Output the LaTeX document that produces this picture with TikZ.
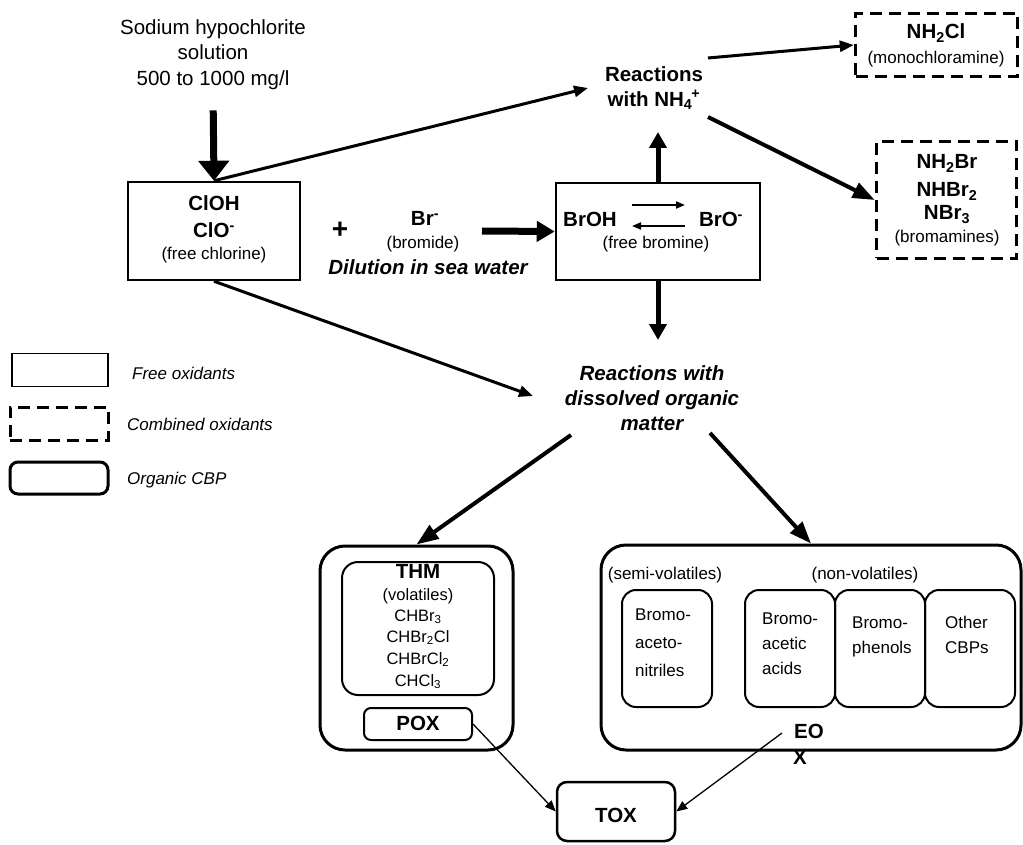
\documentclass[tikz,border=0pt]{standalone}
\usepackage{fontspec}
\setmainfont{Liberation Sans}
\usetikzlibrary{arrows.meta}
\begin{document}
\begin{tikzpicture}[x=1pt,y=-1pt,
  lab/.style={inner sep=0pt, anchor=base},
  big/.style={lab, font=\fontsize{20.5}{24}\selectfont},
  bigb/.style={lab, font=\fontsize{20.5}{24}\selectfont\bfseries},
  bigbi/.style={lab, font=\fontsize{20.5}{24}\selectfont\bfseries\itshape},
  small/.style={lab, font=\fontsize{17}{20}\selectfont},
  smalli/.style={lab, anchor=base west, font=\fontsize{17}{20}\selectfont\itshape},
  thm/.style={lab, font=\fontsize{16.5}{20}\selectfont},
  freebox/.style={draw, line width=2.5pt, inner sep=0pt},
  combox/.style={draw, line width=3.5pt, dash pattern=on 12pt off 7pt, inner sep=0pt},
  orgouter/.style={draw, line width=3pt, rounded corners=25pt, inner sep=0pt},
  orginner/.style={draw, line width=2pt, rounded corners=16pt, inner sep=0pt},
  orgsmall/.style={draw, line width=2pt, rounded corners=7pt, inner sep=0pt},
  bigarrow/.style={line width=7pt, -{Triangle[length=20pt,width=30pt]}},
  brarrow/.style={line width=7pt, -{Triangle[length=18pt,width=20pt]}},
  vertarrow/.style={line width=5pt, -{Triangle[length=16pt,width=17pt]}},
  medarrow/.style={line width=3pt, -{Triangle[length=14pt,width=11pt]}},
  heavyarrow/.style={line width=4pt, -{Triangle[length=22pt,width=16pt]}},
  eqarrow/.style={line width=2pt, -{Triangle[length=9pt,width=7pt]}},
  thinarrow/.style={line width=1.3pt, -{Triangle[length=11pt,width=9pt]}}
]
\useasboundingbox (0,0) rectangle (1023,845);

% sodium hypochlorite
\node[big] (sod1) at (213,35) {Sodium hypochlorite};
\node[big] (sod2) at (213,60) {solution};
\node[big] (sod3) at (213,86) {500 to 1000 mg/l};

% free chlorine box
\node[freebox, minimum width=172pt, minimum height=98pt] (cl) at (214,231) {};
\node[bigb] (clA) at (214,211) {ClOH};
\node[bigb] (clB) at (214,238) {ClO\textsuperscript{-}};
\node[small] (clC) at (214,259) {(free chlorine)};

% plus and bromide
\node[inner sep=0pt, font=\fontsize{28}{30}\selectfont\bfseries] (plus) at (340,230) {+};
\node[bigb] (brm) at (425,226) {Br\textsuperscript{-}};
\node[small] (brmB) at (423,249) {(bromide)};
\node[bigbi] (dil) at (428,274) {Dilution in sea water};

% free bromine box
\node[freebox, minimum width=204pt, minimum height=97pt] (brb) at (658,231.5) {};
\node[bigb] (brA) at (590,227) {BrOH};
\node[bigb] (brB) at (721,227) {BrO\textsuperscript{-}};
\node[small] (brC) at (656,249) {(free bromine)};
\coordinate (eqA) at (632,205);
\coordinate (eqB) at (685,205);
\coordinate (eqC) at (685,226);
\coordinate (eqD) at (632,226);

% reactions with NH4+
\node[inner sep=0pt, align=center, font=\fontsize{20.5}{25}\selectfont\bfseries] (nh4) at (654,88)
  {Reactions\\with NH\textsubscript{4}\kern-1pt\textsuperscript{+}};
\coordinate (nh4in) at (588,88);
\coordinate (nh4outA) at (708,58);
\coordinate (nh4outB) at (708,117);
\coordinate (nh4low) at (658,132);

% combined oxidants
\node[combox, minimum width=162pt, minimum height=63pt] (nhcl) at (936.5,45) {};
\node[bigb] (nhclA) at (936,39) {NH\textsubscript{2}Cl};
\node[small] (nhclB) at (936,64) {(monochloramine)};

\node[combox, minimum width=140pt, minimum height=117pt] (bram) at (946.5,200) {};
\node[bigb] (bramA) at (947,169) {NH\textsubscript{2}Br};
\node[bigb] (bramB) at (947,197) {NHBr\textsubscript{2}};
\node[bigb] (bramC) at (947,220) {NBr\textsubscript{3}};
\node[small] (bramD) at (947,243) {(bromamines)};

% dissolved organic matter
\node[bigbi] (domA) at (652,380) {Reactions with};
\node[bigbi] (domB) at (652,405) {dissolved organic};
\node[bigbi] (domC) at (652,430) {matter};
\coordinate (domtop) at (658,340);
\coordinate (domin) at (533,396);
\coordinate (domoutA) at (571,435);
\coordinate (domoutB) at (710,433);
\coordinate (brstart) at (482,231);

% legend
\node[draw, line width=1.5pt, minimum width=96pt, minimum height=33pt, inner sep=0pt] (lg1) at (60,370) {};
\node[smalli] (lg1t) at (132,379) {Free oxidants};
\node[combox, line width=3pt, minimum width=98pt, minimum height=33pt] (lg2) at (59,423.5) {};
\node[smalli] (lg2t) at (127,430) {Combined oxidants};
\node[draw, line width=3pt, rounded corners=8pt, minimum width=98pt, minimum height=32pt, inner sep=0pt] (lg3) at (59,478) {};
\node[smalli] (lg3t) at (127,484) {Organic CBP};

% THM group
\node[orgouter, minimum width=193pt, minimum height=204pt] (thmo) at (416.5,648) {};
\node[orginner, minimum width=152pt, minimum height=133pt] (thmi) at (418,628.5) {};
\node[bigb] (thmA) at (418,578) {THM};
\node[thm] (thmB) at (418,600) {(volatiles)};
\node[thm] (thmC) at (418,621) {CHBr\textsubscript{3}};
\node[thm] (thmD) at (418,642) {CHBr\textsubscript{2}Cl};
\node[thm] (thmE) at (418,664) {CHBrCl\textsubscript{2}};
\node[thm] (thmF) at (418,686) {CHCl\textsubscript{3}};
\node[orgsmall, minimum width=108pt, minimum height=32pt] (pox) at (418,724) {};
\node[bigb] (poxt) at (418,730) {POX};

% right group
\node[orgouter, minimum width=420pt, minimum height=205pt] (rgt) at (811,647.5) {};
\node[small] (semi) at (665,579) {(semi-volatiles)};
\node[small] (nonv) at (865,579) {(non-volatiles)};
\node[orginner, rounded corners=14pt, minimum width=90pt, minimum height=117pt] (ban) at (667,648.5) {};
\node[orginner, rounded corners=14pt, minimum width=90pt, minimum height=117pt] (baa) at (790,648.5) {};
\node[orginner, rounded corners=14pt, minimum width=90pt, minimum height=117pt] (bph) at (880,648.5) {};
\node[orginner, rounded corners=14pt, minimum width=90pt, minimum height=117pt] (oth) at (970,648.5) {};
\node[small, anchor=base west] (banA) at (635,620) {Bromo-};
\node[small, anchor=base west] (banB) at (635,648) {aceto-};
\node[small, anchor=base west] (banC) at (635,676) {nitriles};
\node[small, anchor=base west] (baaA) at (762,624) {Bromo-};
\node[small, anchor=base west] (baaB) at (762,649) {acetic};
\node[small, anchor=base west] (baaC) at (762,674) {acids};
\node[small, anchor=base west] (bphA) at (852,628) {Bromo-};
\node[small, anchor=base west] (bphB) at (852,653) {phenols};
\node[small, anchor=base west] (othA) at (945,628) {Other};
\node[small, anchor=base west] (othB) at (945,653) {CBPs};
\node[bigb] (eo) at (809,738) {EO};
\node[bigb] (eox) at (800,764) {X};
\coordinate (eoxstart) at (782,733);

% TOX
\node[draw, line width=2.5pt, rounded corners=10pt, minimum width=118pt, minimum height=59pt, inner sep=0pt] (tox) at (616,811.5) {};
\node[bigb] (toxt) at (616,822) {TOX};

% connectors
\draw[bigarrow, shorten <=20pt] (sod3.south) -- (cl.north);
\draw[medarrow] (cl.north) -- (nh4in);
\draw[medarrow] (cl.south) -- (domin);
\draw[brarrow] (brstart) -- (brb.west);
\draw[eqarrow] (eqA) -- (eqB);
\draw[eqarrow] (eqC) -- (eqD);
\draw[vertarrow] (brb.north) -- (nh4low);
\draw[vertarrow] (brb.south) -- (domtop);
\draw[medarrow] (nh4outA) -- (nhcl.west);
\draw[heavyarrow] (nh4outB) -- (bram.west);
\draw[heavyarrow] (domoutA) -- (thmo.north);
\draw[heavyarrow] (domoutB) -- (rgt.north);
\draw[thinarrow] (pox.east) -- (tox.west);
\draw[thinarrow] (eoxstart) -- (tox.east);
\end{tikzpicture}
\end{document}
